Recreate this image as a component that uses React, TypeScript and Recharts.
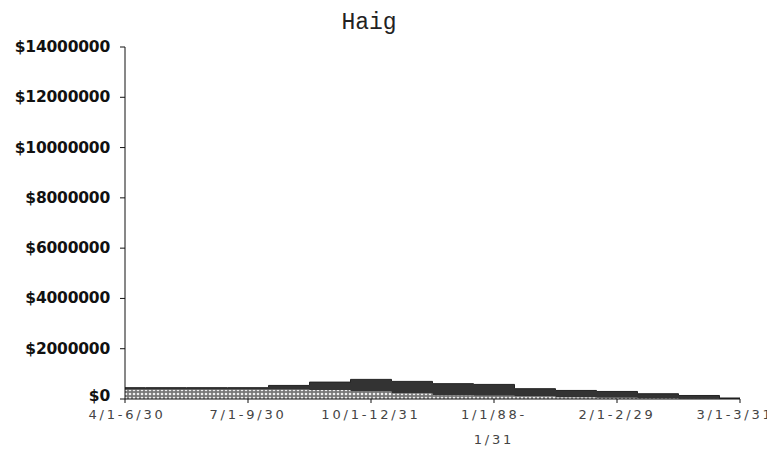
import React from "react";
import { AreaChart, Area, XAxis, YAxis } from "recharts";

// one point per third of a period; the source chart steps in thirds
const steps = [0, 1, 2, 3, 4, 5, 6, 7, 8, 9, 10, 11, 12, 13, 14, 15];
const dottedValues = [370000, 370000, 370000, 370000, 370000, 360000, 300000, 220000, 160000, 130000, 100000, 70000, 50000, 30000, 10000, 0];
const darkValues = [80000, 80000, 80000, 80000, 170000, 312000, 480000, 480000, 450000, 450000, 310000, 270000, 250000, 180000, 130000, 40000];

const periodTicks = [0, 3, 6, 9, 12, 15];
const periodLabels = ["4/1-6/30", "7/1-9/30", "10/1-12/31", "1/1/88-\n1/31", "2/1-2/29", "3/1-3/31"];
const yTicks = [0, 2000000, 4000000, 6000000, 8000000, 10000000, 12000000, 14000000];

const data = steps.map((s, i) => ({
  step: s,
  dotted: dottedValues[i],
  dark: darkValues[i],
}));

const PeriodTick = ({ x, y, payload }: any) => {
  const idx = periodTicks.indexOf(payload.value);
  const lines = (periodLabels[idx] ?? "").split("\n");
  // keep the first and last labels clear of the $0 label and the page edge
  const cx = idx === 0 ? x + 2 : idx === periodTicks.length - 1 ? x - 5 : x;
  return (
    <text
      x={cx}
      y={y}
      textAnchor="middle"
      fill="#444"
      fontFamily="DejaVu Sans"
      fontSize={13}
      letterSpacing={2.8}
    >
      {lines.map((l, i) => (
        <tspan key={i} x={cx} dy={i === 0 ? 14 : 25}>
          {l}
        </tspan>
      ))}
    </text>
  );
};

const MoneyTick = ({ x, y, payload }: any) => (
  <text
    x={x}
    y={payload.value === 0 ? y - 3 : y}
    dy={5}
    textAnchor="end"
    fill="#111"
    fontFamily="DejaVu Sans"
    fontWeight="bold"
    fontSize={15.5}
    letterSpacing={-0.2}
  >
    {`$${payload.value}`}
  </text>
);

export default function App() {
  return (
    <div style={{ position: "relative", width: 767, height: 456, background: "#fff" }}>
      <svg
        width={767}
        height={40}
        style={{ position: "absolute", left: 0, top: 0, pointerEvents: "none" }}
      >
        <text x={361} y={21} textAnchor="middle" fontFamily="Liberation Mono" fontSize={23} fill="#222">
          Haig
        </text>
      </svg>
      <AreaChart
        width={767}
        height={456}
        data={data}
        margin={{ top: 39, right: 35, left: 0, bottom: 0 }}
      >
        <defs>
          <pattern id="dots" width="4" height="4" patternUnits="userSpaceOnUse">
            <rect width="4" height="4" fill="#777" />
            <circle cx="2" cy="2" r="1.3" fill="#eee" />
          </pattern>
        </defs>
        <XAxis
          dataKey="step"
          type="number"
          domain={[0, 15]}
          ticks={periodTicks}
          interval={0}
          height={65}
          tickSize={4}
          stroke="#111"
          tick={<PeriodTick />}
        />
        <YAxis
          type="number"
          domain={[0, 14000000]}
          ticks={yTicks}
          interval={0}
          width={117}
          tickSize={5}
          tickMargin={10}
          stroke="#111"
          tick={<MoneyTick />}
        />
        <Area
          type="step"
          dataKey="dotted"
          stackId="1"
          fill="url(#dots)"
          fillOpacity={1}
          stroke="none"
          isAnimationActive={false}
        />
        <Area
          type="step"
          dataKey="dark"
          stackId="1"
          fill="#333"
          fillOpacity={1}
          stroke="#222"
          strokeWidth={1}
          isAnimationActive={false}
        />
      </AreaChart>
    </div>
  );
}
